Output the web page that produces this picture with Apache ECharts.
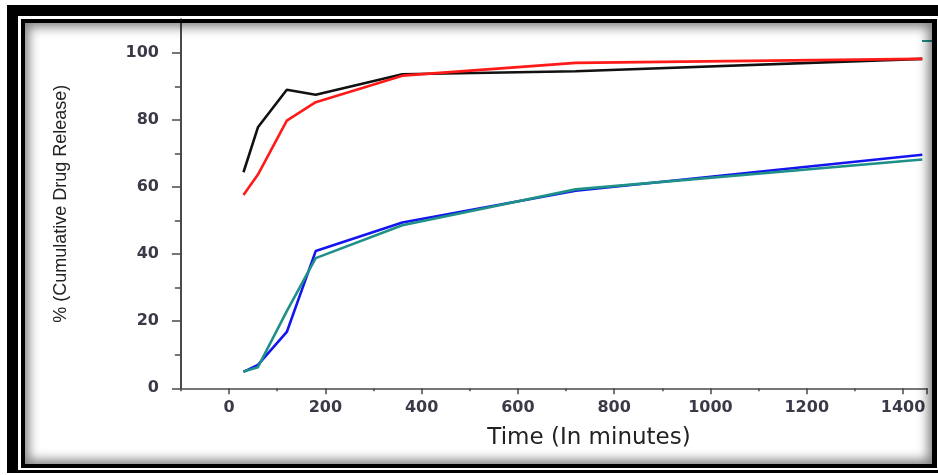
<!DOCTYPE html>
<html>
<head>
<meta charset="utf-8">
<script src="https://cdn.jsdelivr.net/npm/echarts@6/dist/echarts.min.js"></script>
<style>
  html, body { margin: 0; padding: 0; background: #fff; }
  #wrap { position: relative; width: 938px; height: 475px; overflow: hidden; background: #fff; }
  #chart { position: absolute; left: 0; top: 0; width: 938px; height: 475px; }
  .outer { position: absolute; left: 7px; top: 5px; right: -30px; bottom: 2px;
           border-top: 11px solid #000; border-left: 11px solid #000; border-bottom: 3px solid #000;
           pointer-events: none; }
  .inner { position: absolute; left: 21px; top: 19px; width: 916px; height: 449px; box-sizing: border-box;
           border: 4px solid #000; border-right-width: 5px;
           box-shadow: inset 0 0 11px 4px rgba(0,0,0,0.5); pointer-events: none; }
</style>
</head>
<body>
<div id="wrap">
  <div id="chart"></div>
  <div class="outer"></div>
  <div class="inner"></div>
</div>
<script>
// Time points (minutes)
const timeMin = [30, 60, 120, 180, 360, 720, 1440];
// Cumulative drug release (%) for each formulation
const seriesBlack = [64.4, 77.8, 89.0, 87.5, 93.6, 94.5, 98.2];
const seriesRed   = [57.6, 63.7, 79.8, 85.3, 93.2, 97.0, 98.2];
const seriesBlue  = [4.9, 7.0, 16.8, 40.9, 49.4, 58.9, 69.6];
const seriesTeal  = [5.0, 6.3, 23.0, 38.8, 48.6, 59.3, 68.2];
const seriesNames = ['Formulation A', 'Formulation B', 'Formulation C', 'Formulation D'];
const seriesColors = ['#111111', '#ff1a1a', '#1515f0', '#1f9088'];
const xTitle = 'Time (In minutes)';
const yTitle = '% (Cumulative Drug Release)';

const chart = echarts.init(document.getElementById('chart'), null, { renderer: 'canvas' });

const gridTop = 19.3, gridBottom = 86.7, gridLeft = 180.9, gridRight = 10.9;
const pxPerMin = 0.48143;
const grid2Left = gridLeft + 100 * pxPerMin;

const axisColor = '#4a4a4a';
const labelFont = { fontFamily: 'DejaVu Sans', fontSize: 16, fontWeight: 'bold', color: '#3a3a48' };

function mk(values) { return timeMin.map((t, i) => [t, values[i]]); }
const all = [seriesBlack, seriesRed, seriesBlue, seriesTeal];

chart.setOption({
  animation: false,
  backgroundColor: 'transparent',
  grid: [
    { left: gridLeft, right: gridRight, top: gridTop, bottom: gridBottom },
    { left: grid2Left, right: gridRight, top: gridTop, bottom: gridBottom }
  ],
  xAxis: [
    { type: 'value', gridIndex: 0, min: -100, max: 1450, interval: 100,
      axisLine: { show: true, onZero: false, lineStyle: { color: axisColor, width: 1.5 } },
      axisTick: { show: true, length: 3, lineStyle: { color: axisColor, width: 1.5 } },
      axisLabel: { show: false }, splitLine: { show: false },
      name: xTitle, nameLocation: 'middle', nameGap: 38,
      nameTextStyle: { fontFamily: 'DejaVu Sans', fontSize: 23, color: '#222', padding: [0, 0, 0, 70] } },
    { type: 'value', gridIndex: 1, min: 0, max: 1450, interval: 200,
      axisLine: { show: false, onZero: false },
      axisTick: { show: true, length: 6, lineStyle: { color: axisColor, width: 1.5 } },
      axisLabel: Object.assign({ margin: 12, formatter: v => (v > 1400 ? '' : String(v)) }, labelFont),
      splitLine: { show: false } }
  ],
  yAxis: [
    { type: 'value', gridIndex: 0, min: 0, max: 110, interval: 20,
      axisLine: { show: true, onZero: false, lineStyle: { color: axisColor, width: 2 } },
      axisTick: { show: true, length: 9, lineStyle: { color: axisColor, width: 1.5 } },
      minorTick: { show: true, splitNumber: 2, length: 6, lineStyle: { color: axisColor, width: 1.5 } },
      axisLabel: Object.assign({ margin: 22, formatter: v => (v > 100 ? '' : String(v)) }, labelFont),
      splitLine: { show: false }, minorSplitLine: { show: false },
      name: yTitle, nameLocation: 'middle', nameRotate: 90, nameGap: 111,
      nameTextStyle: { fontFamily: 'Liberation Sans', fontSize: 18, color: '#222' } },
    { type: 'value', gridIndex: 1, min: 0, max: 110, show: false, axisLine: { onZero: false } }
  ],
  series: all.map((vals, i) => ({
    name: seriesNames[i], type: 'line', xAxisIndex: 0, yAxisIndex: 0,
    data: mk(vals), showSymbol: false, symbol: 'none',
    lineStyle: { color: seriesColors[i], width: 2.6 }, itemStyle: { color: seriesColors[i] }
  })),
  graphic: [
    { type: 'line', shape: { x1: 922, y1: 41, x2: 936, y2: 41 },
      style: { stroke: '#1f9088', lineWidth: 2 }, z: 10 }
  ]
});
</script>
</body>
</html>
